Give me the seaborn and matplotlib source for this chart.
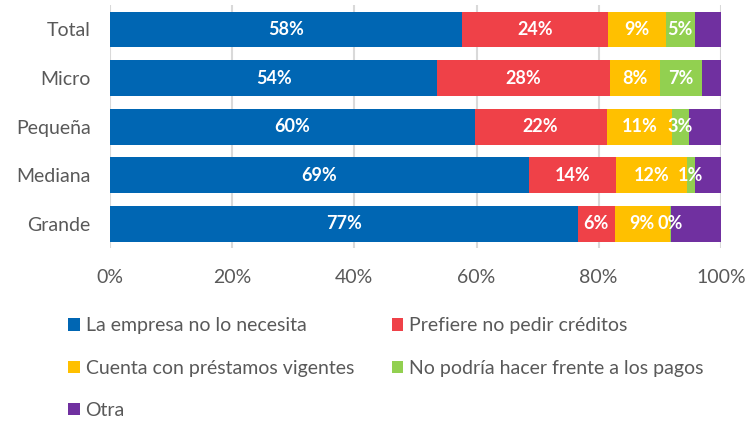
import numpy as np
import pandas as pd
import matplotlib
matplotlib.use("Agg")
import matplotlib.pyplot as plt
import seaborn as sns
from matplotlib.patches import Patch

# Data (shares in %)
categories = ["Total", "Micro", "Pequeña", "Mediana", "Grande"]
series_names = [
    "La empresa no lo necesita",
    "Prefiere no pedir créditos",
    "Cuenta con préstamos vigentes",
    "No podría hacer frente a los pagos",
    "Otra",
]
necesita = [57.6, 53.6, 59.7, 68.6, 76.6]
prefiere = [24.0, 28.2, 21.6, 14.2, 6.0]
vigentes = [9.4, 8.2, 10.7, 11.6, 9.0]
pagos = [4.7, 6.9, 2.8, 1.3, 0.2]
otra = [4.3, 3.1, 5.2, 4.3, 8.2]
labels_shown = [True, True, True, True, False]

colors = ["#0066B3", "#EF4148", "#FFC000", "#92D050", "#7030A0"]

sns.set_theme(style="white")
plt.rcParams["font.family"] = ["Lato", "DejaVu Sans"]

df = pd.DataFrame(
    {n: v for n, v in zip(series_names, [necesita, prefiere, vigentes, pagos, otra])},
    index=categories,
)
cum = df.cumsum(axis=1)

fig = plt.figure(figsize=(7.56, 4.21), dpi=100)
ax = fig.add_axes([0.1455, 0.411, 0.808, 0.5766])

# draw stacked bars by layering cumulative totals (largest first)
for name, col in reversed(list(zip(series_names, colors))):
    sns.barplot(x=cum[name].values, y=categories, orient="h", color=col,
                width=0.74, ax=ax, saturation=1, edgecolor="none")

# segment labels
for name, show in zip(series_names, labels_shown):
    if not show:
        continue
    for i, cat in enumerate(categories):
        v = df.loc[cat, name]
        center = cum.loc[cat, name] - v / 2
        ax.text(center, i, f"{v:.0f}%", ha="center", va="center",
                color="white", fontsize=13, fontweight="bold")

ax.set_xlim(0, 100)
ax.set_xticks(np.arange(0, 101, 20))
ax.set_xticklabels([f"{t}%" for t in range(0, 101, 20)])
ax.xaxis.grid(True, color="#D9D9D9", linewidth=1.5)
ax.set_axisbelow(True)
for s in ax.spines.values():
    s.set_visible(False)
ax.tick_params(axis="x", length=0, pad=15, labelsize=14, labelcolor="#595959")
ax.tick_params(axis="y", length=0, pad=14, labelsize=14, labelcolor="#595959")
ax.set_xlabel("")
ax.set_ylabel("")

# legend filled row by row: reorder for matplotlib's column-major fill
order = [0, 2, 4, 1, 3]
handles = [Patch(facecolor=colors[k], edgecolor="none") for k in order]
names = [series_names[k] for k in order]
fig.legend(handles, names, loc="upper left",
           bbox_to_anchor=(0.09, 0.246), ncol=2, frameon=False,
           fontsize=14, labelcolor="#595959", handlelength=0.6,
           handleheight=0.6, handletextpad=0.3, labelspacing=1.3,
           columnspacing=1.95, borderaxespad=0, borderpad=0)

fig.savefig("out.png", dpi=100)
